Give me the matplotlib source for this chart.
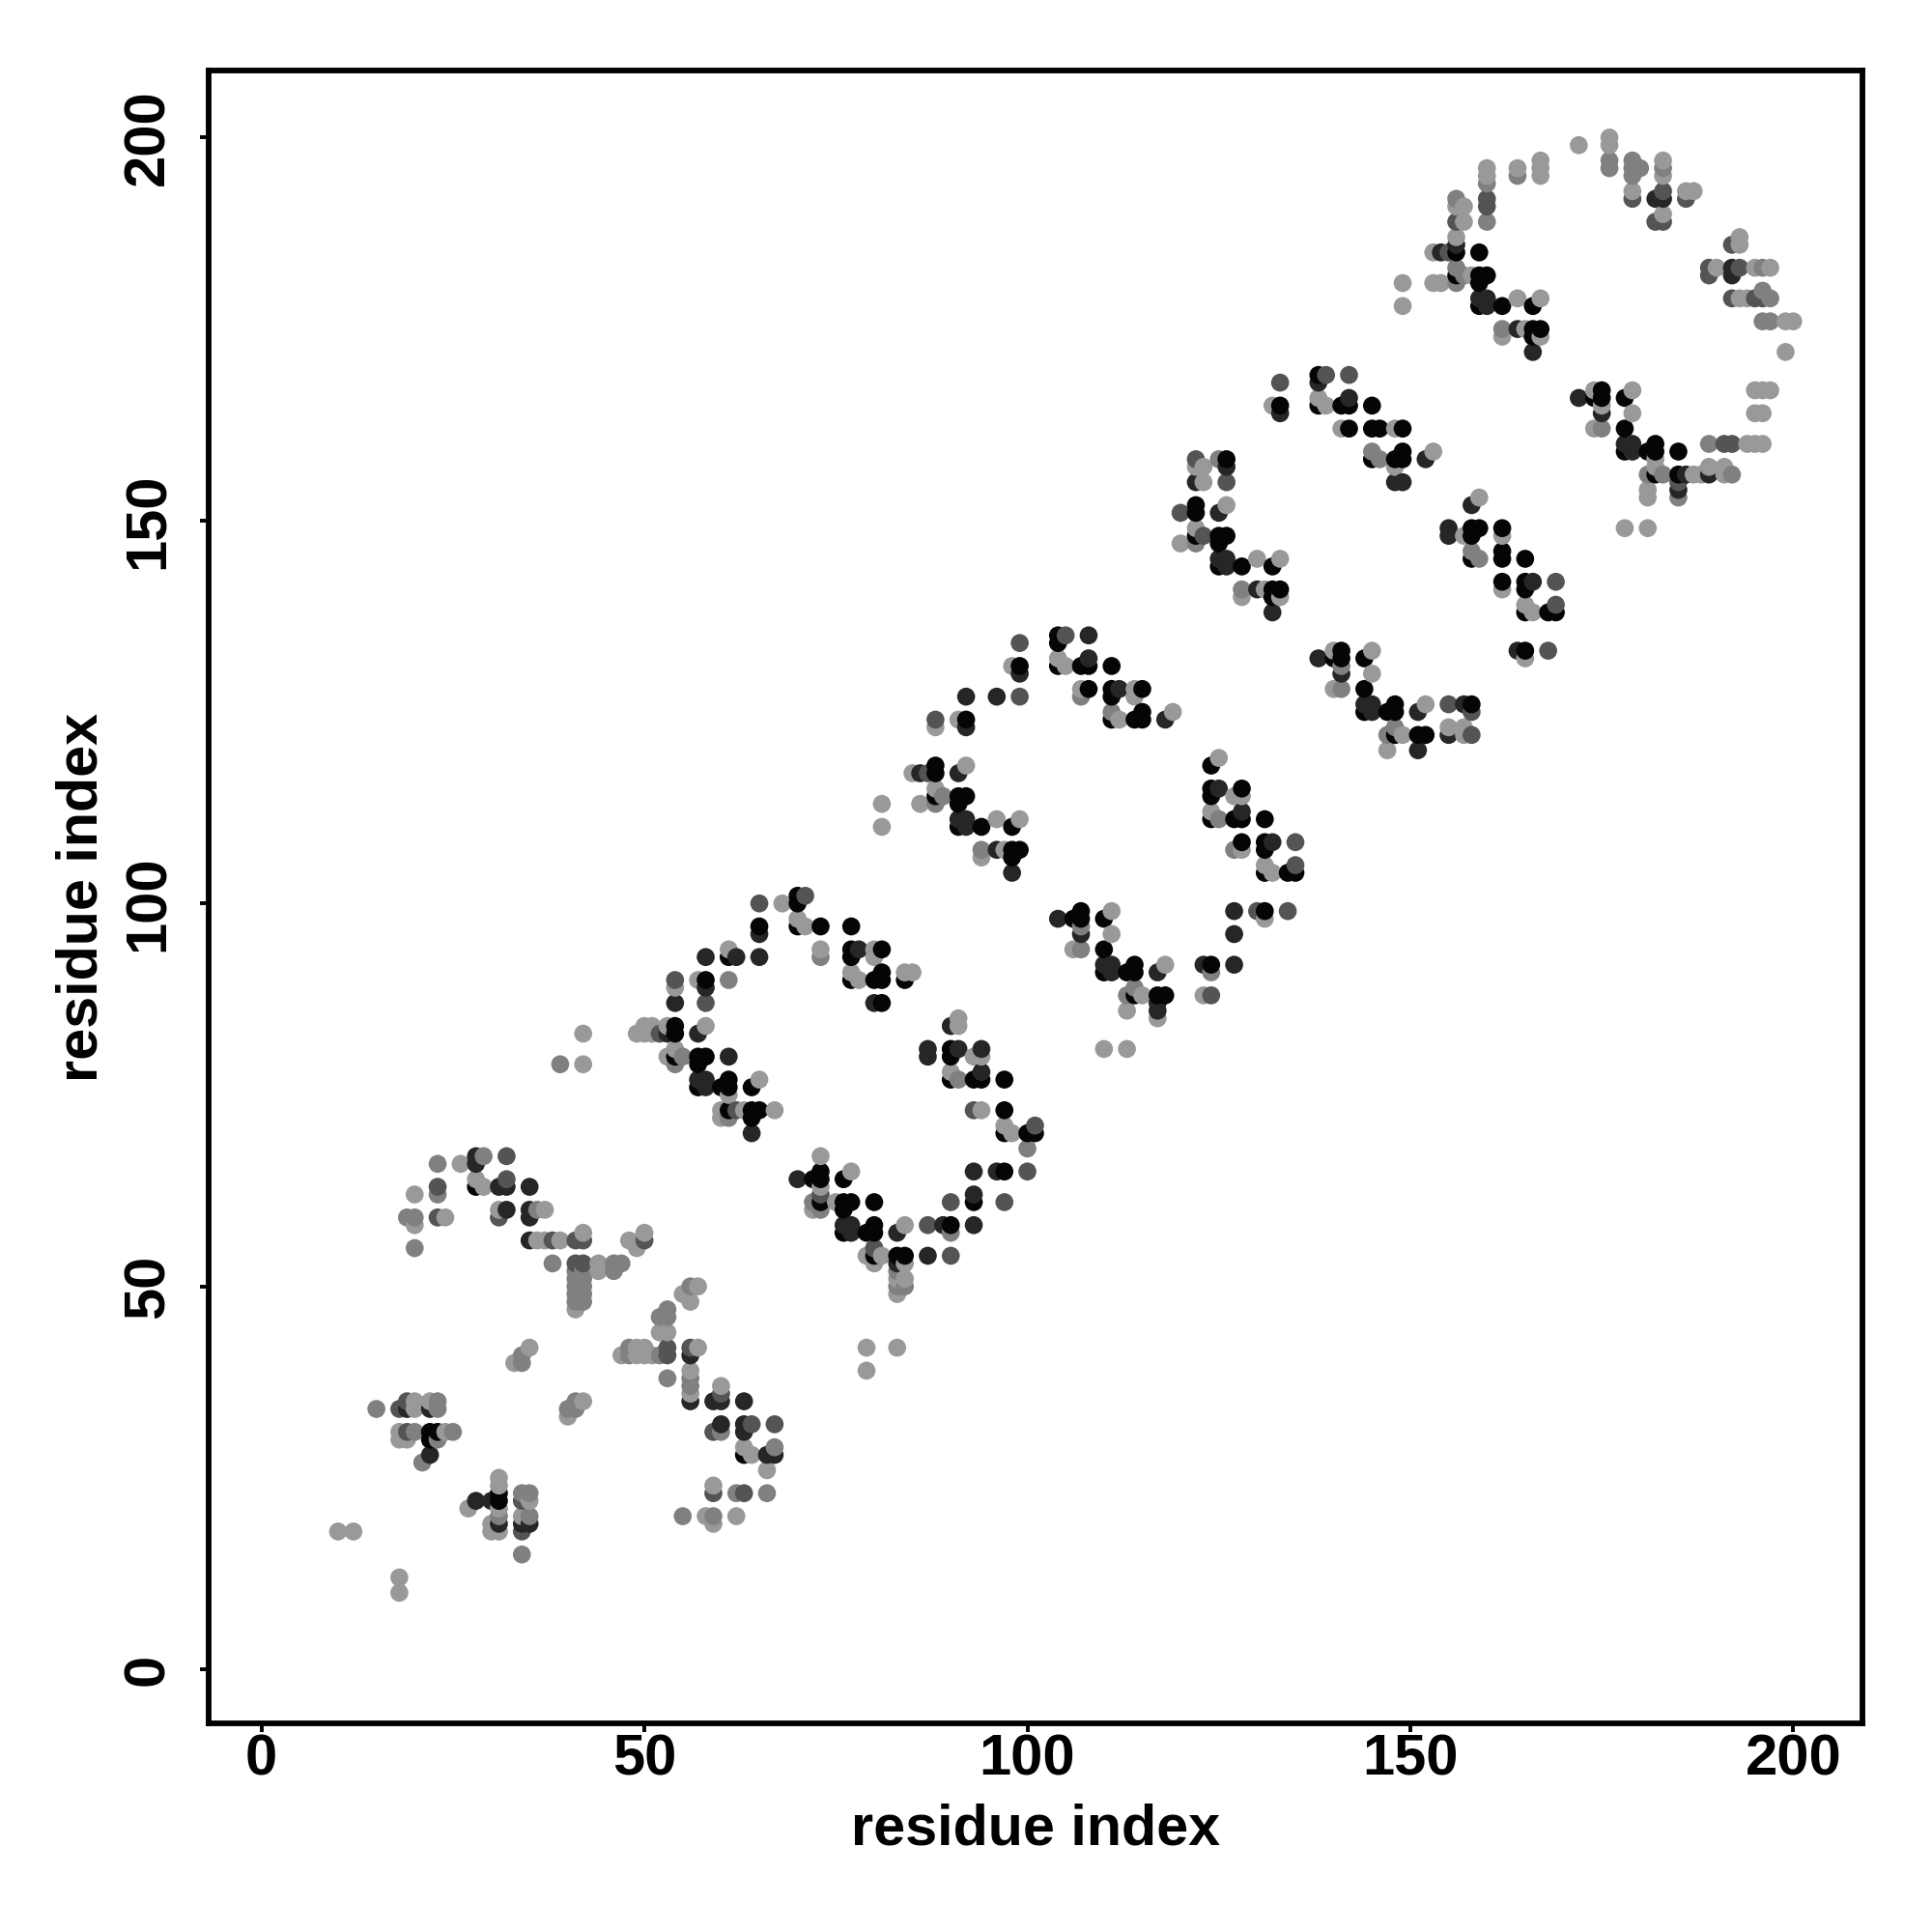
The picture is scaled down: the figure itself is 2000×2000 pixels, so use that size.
import matplotlib
matplotlib.use("Agg")
import matplotlib.pyplot as plt
import numpy as np

# contacts, one list per grey level
light = [(10,18),(12,18),(18,12),(18,10),(26,66),(28,64),(29,63),(20,62),(20,58),(24,59),(31,60),(37,60),
         (37,56),(39,56),(36,56),(42,57),(48,56),(50,57),(49,55),(44,53),(44,52),(41,47),(55,49),(57,50),
         (56,48),(52,44),(53,44),(47,41),(49,42),(49,41),(50,42),(50,41),(51,41),(57,42),(56,39),(56,36),
         (60,37),(63,29),(64,28),(66,26),(59,24),(58,20),(59,19),(62,20),(24,31),(18,31),(18,30),(19,30),
         (20,35),(20,34),(22,35),(27,21),(31,25),(31,24),(31,21),(31,18),(30,19),(30,18),(35,22),(34,20),
         (33,40),(35,42),(40,33),(42,35),
         (68,100),(70,98),(71,97),(61,94),(73,94),(80,94),(80,93),(77,91),(78,90),(84,91),(85,91),(54,89),
         (57,90),(58,84),(53,84),(51,84),(51,83),(50,84),(50,83),(49,83),(42,83),(42,79),(53,80),(54,81),
         (61,75),(65,77),(60,73),(60,72),(63,73),(67,73),(91,85),(91,84),(93,80),(94,80),(90,78),(94,73),
         (97,71),(98,70),(84,58),(75,61),(73,67),(77,65),(73,63),(72,60),(79,54),(81,54),(80,53),(84,53),
         (84,51),(83,51),(83,49),(79,42),(83,42),(79,39),
         (98,131),(104,132),(105,131),(88,123),(91,124),(107,128),(114,128),(114,127),(112,124),(119,125),
         (85,117),(92,118),(81,113),(81,110),(86,113),(88,115),(96,111),(99,111),(94,106),(97,107),(125,119),
         (127,114),(128,114),(124,112),(128,107),(131,105),(132,104),(131,98),(123,88),(111,99),(111,96),
         (106,94),(118,92),(115,88),(117,85),(113,86),(110,81),(113,81),
         (132,165),(138,166),(139,165),(141,162),(148,162),(148,157),(153,159),(122,157),(123,157),(123,155),
         (126,152),(120,147),(122,149),(130,145),(133,145),(128,140),(131,141),(133,140),(159,153),(157,148),
         (162,148),(162,141),(165,139),(166,138),(165,132),(140,133),(145,133),(145,130),(140,128),(152,126),
         (149,122),(147,120),(155,123),(157,123),(157,122),
         (172,199),(176,200),(176,199),(160,196),(160,195),(164,196),(167,197),(167,196),(167,195),(179,193),
         (183,197),(183,195),(183,190),(186,193),(187,193),(156,191),(157,191),(157,189),(156,187),(153,185),
         (158,182),(153,181),(154,181),(149,181),(149,178),(164,179),(167,179),(165,175),(162,174),(167,174),
         (193,187),(193,186),(190,183),(195,183),(197,183),(193,179),(194,179),(199,176),(200,176),(199,172),
         (195,167),(196,167),(197,167),(195,164),(196,164),(194,160),(195,160),(196,160),(189,157),(191,157),
         (191,156),(188,156),(187,156),(181,154),(181,153),(178,149),(181,149),(182,158),(182,157),(174,162),
         (175,165),(174,167),(179,167),(179,164)]

mid = [(15,34),(23,66),(29,67),(23,62),(19,59),(20,59),(20,55),(36,60),(38,53),(41,52),(41,51),(41,50),(41,49),
       (41,48),(42,52),(42,51),(42,50),(42,49),(42,48),(46,53),(46,52),(47,53),(56,50),(53,47),(52,46),(53,46),
       (48,42),(48,41),(52,41),(53,38),(56,38),(56,37),(60,31),(67,29),(62,23),(66,23),(55,20),(59,20),(25,31),
       (23,30),(21,27),(20,31),(23,35),(23,34),(31,20),(34,23),(35,23),(35,20),(34,15),(34,40),(34,41),(40,34),
       (41,34),(41,35),
       (61,90),(39,79),(54,79),(55,80),(61,72),(91,77),(100,68),(73,60),(72,61),(80,55),(83,52),(84,50),(83,50),
       (90,57),(73,93),(107,127),(111,125),(89,114),(88,113),(94,107),(107,97),(107,94),(114,89),(113,88),(124,91),
       (125,111),(127,107),(145,159),(146,158),(122,147),(125,158),(128,141),(158,146),(159,145),(141,131),(141,128),
       (148,123),(147,122),(176,197),(176,196),(160,194),(160,189),(164,195),(179,197),(179,196),(179,195),(180,196),
       (183,196),(156,192),(156,183),(156,181),(157,182),(162,175),(196,183),(197,179),(196,180),(196,176),(197,176),
       (189,160),(192,156),(181,156),(183,156),(175,162),(185,153)]

dark_mid = [(32,67),(32,64),(23,63),(23,59),(31,59),(41,56),(42,56),(38,56),(50,56),(41,53),(42,53),(53,42),(53,41),
            (56,42),(60,36),(59,31),(64,32),(67,32),(59,23),(63,23),(18,34),(19,35),(19,31),(34,22),(34,18),
            (65,100),(71,101),(54,90),(58,87),(52,83),(62,73),(93,73),(101,71),(100,65),(90,61),(97,61),(87,58),
            (90,54),(73,62),(80,55),
            (99,134),(105,135),(88,124),(99,127),(87,117),(135,108),(135,105),(130,99),(134,99),(124,88),
            (133,168),(139,169),(142,169),(122,158),(126,155),(120,151),(123,148),(169,142),(169,139),(168,133),
            (155,126),(158,125),(158,122),
            (160,192),(160,191),(179,192),(183,193),(186,192),(156,189),(155,185),(192,186),(189,183),(189,182),
            (193,183),(192,179),(195,179),(196,179),(191,160),(192,160),(185,155),(182,189),(183,189)]

dark = [(28,67),(28,66),(31,63),(32,63),(35,63),(32,60),(35,60),(35,59),(35,56),(56,41),(56,35),(59,35),(60,35),(63,35),
        (60,32),(63,32),(63,31),(66,28),(67,28),(22,28),(19,34),(22,34),(28,22),(30,22),(31,19),(34,19),(35,19),
        (65,96),(65,93),(62,93),(58,93),(78,94),(80,87),(54,87),(58,89),(57,83),(53,83),(61,80),(57,77),(58,77),(58,76),
        (64,70),(90,84),(87,81),(87,80),(91,81),(94,81),(94,78),(93,65),(96,65),(93,62),(89,58),(93,58),(87,54),(83,57),
        (76,58),(77,58),(77,57),(70,64),(83,53),
        (108,135),(108,132),(99,130),(96,127),(92,127),(92,123),(112,128),(118,124),(86,117),(91,117),(91,111),(92,111),
        (92,110),(96,107),(98,104),(132,108),(125,115),(128,112),(127,99),(127,96),(123,92),(127,92),(104,98),(107,96),
        (110,92),(111,92),(111,91),(117,91),(117,86),(117,87),
        (133,164),(138,168),(142,166),(152,158),(148,155),(149,155),(126,157),(122,155),(125,151),(125,145),(126,145),
        (126,144),(130,141),(132,138),(158,152),(155,149),(155,148),(166,142),(164,133),(138,132),(141,130),(144,126),
        (145,126),(145,125),(151,125),(157,126),(151,120),(155,122),
        (154,185),(156,186),(182,192),(183,192),(159,179),(160,179),(160,178),(164,175),(166,172),(192,183),(192,182),
        (189,156),(186,156),(185,154),(178,160),(179,160),(179,159),(172,166),(175,164)]

black = [(28,63),(63,28),(22,31),(23,31),(22,30),(31,23),(31,22),
         (70,101),(70,100),(70,97),(73,97),(77,97),(65,97),(61,93),(77,94),(77,93),(81,94),(77,90),(80,90),(81,91),(81,90),
         (84,90),(81,87),(58,90),(54,84),(54,83),(54,80),(57,80),(58,80),(57,79),(57,76),(60,76),(61,77),(61,76),(64,76),
         (61,73),(64,73),(65,73),(64,72),(90,81),(90,80),(90,77),(93,77),(94,77),(97,77),(97,73),(97,70),(100,70),(101,70),
         (97,65),(93,61),(90,58),(80,58),(79,57),(80,57),(76,57),(76,61),(77,61),(76,60),(80,61),(73,65),(73,64),(72,64),
         (76,64),(73,61),(80,54),(83,54),(84,54),
         (104,135),(104,134),(104,131),(107,131),(108,131),(111,131),(99,131),(108,128),(111,128),(111,127),(115,128),
         (111,124),(114,124),(115,125),(115,124),(92,124),(88,118),(88,117),(88,114),(91,114),(92,114),(91,113),(91,110),
         (94,110),(98,110),(98,107),(99,107),(98,106),(124,118),(124,115),(124,114),(128,115),(124,111),(127,111),(128,111),
         (131,111),(128,108),(131,108),(131,107),(131,104),(134,104),(135,104),(131,99),(124,92),(106,98),(107,99),(107,98),
         (110,98),(110,94),(110,91),(113,91),(114,92),(114,91),(114,88),(117,88),(118,88),
         (133,165),(138,169),(138,165),(141,165),(142,165),(145,165),(142,162),(145,162),(146,162),(149,162),(145,158),
         (148,158),(149,159),(149,158),(126,158),(122,152),(122,151),(122,148),(125,148),(126,148),(125,147),(125,144),
         (128,144),(132,144),(132,141),(133,141),(132,140),(158,149),(159,149),(158,148),(162,149),(158,145),(162,146),
         (162,145),(165,145),(162,142),(165,142),(165,141),(165,138),(168,138),(169,138),(165,133),(140,132),(141,133),
         (141,132),(144,132),(144,128),(144,125),(147,125),(148,126),(148,125),(158,126),(148,122),(151,122),(152,122),
         (156,185),(159,185),(156,182),(159,182),(160,182),(159,181),(159,178),(162,178),(166,178),(166,175),(167,175),
         (166,174),(185,156),(182,156),(185,159),(178,159),(181,159),(182,160),(182,159),(178,162),(175,167),(175,166),
         (174,166),(178,166)]

ticks = [0, 50, 100, 150, 200]
levels = [(light, 0.6), (mid, 0.5), (dark_mid, 0.33), (dark, 0.15), (black, 0.02)]

pts = []
for group, grey in levels:
    for x, y in group:
        pts.append((x, y, grey))
pts = np.array(pts)
pts = pts[np.lexsort((pts[:, 1], pts[:, 0]))]

plt.rcParams['font.family'] = ['Liberation Sans', 'DejaVu Sans']
plt.rcParams['font.weight'] = 'bold'

fig = plt.figure(figsize=(10, 10), dpi=200)
ax = fig.add_axes([216 / 2000, 1 - 1784 / 2000, (1928.5 - 216) / 2000, (1784 - 73) / 2000])
ax.scatter(pts[:, 0], pts[:, 1], s=45, c=[str(g) for g in pts[:, 2]], linewidths=0)

ax.set_xlim(-6.9, 209.1)
ax.set_ylim(-7.05, 208.75)
ax.set_xticks(ticks)
ax.set_yticks(ticks)
ax.tick_params(axis='x', labelsize=21.5, length=3.4, width=1.4, pad=0.5)
ax.tick_params(axis='y', labelsize=21.5, length=3.4, width=1.4, pad=9)
for lab in ax.get_yticklabels():
    lab.set_rotation(90)
    lab.set_va('center')
for s in ax.spines.values():
    s.set_linewidth(2.1)

ax.set_xlabel('residue index', fontsize=21.4, fontweight='bold', labelpad=6)
ax.set_ylabel('residue index', fontsize=21.4, fontweight='bold', labelpad=5)

fig.savefig('out.png', dpi=200, facecolor='white')
